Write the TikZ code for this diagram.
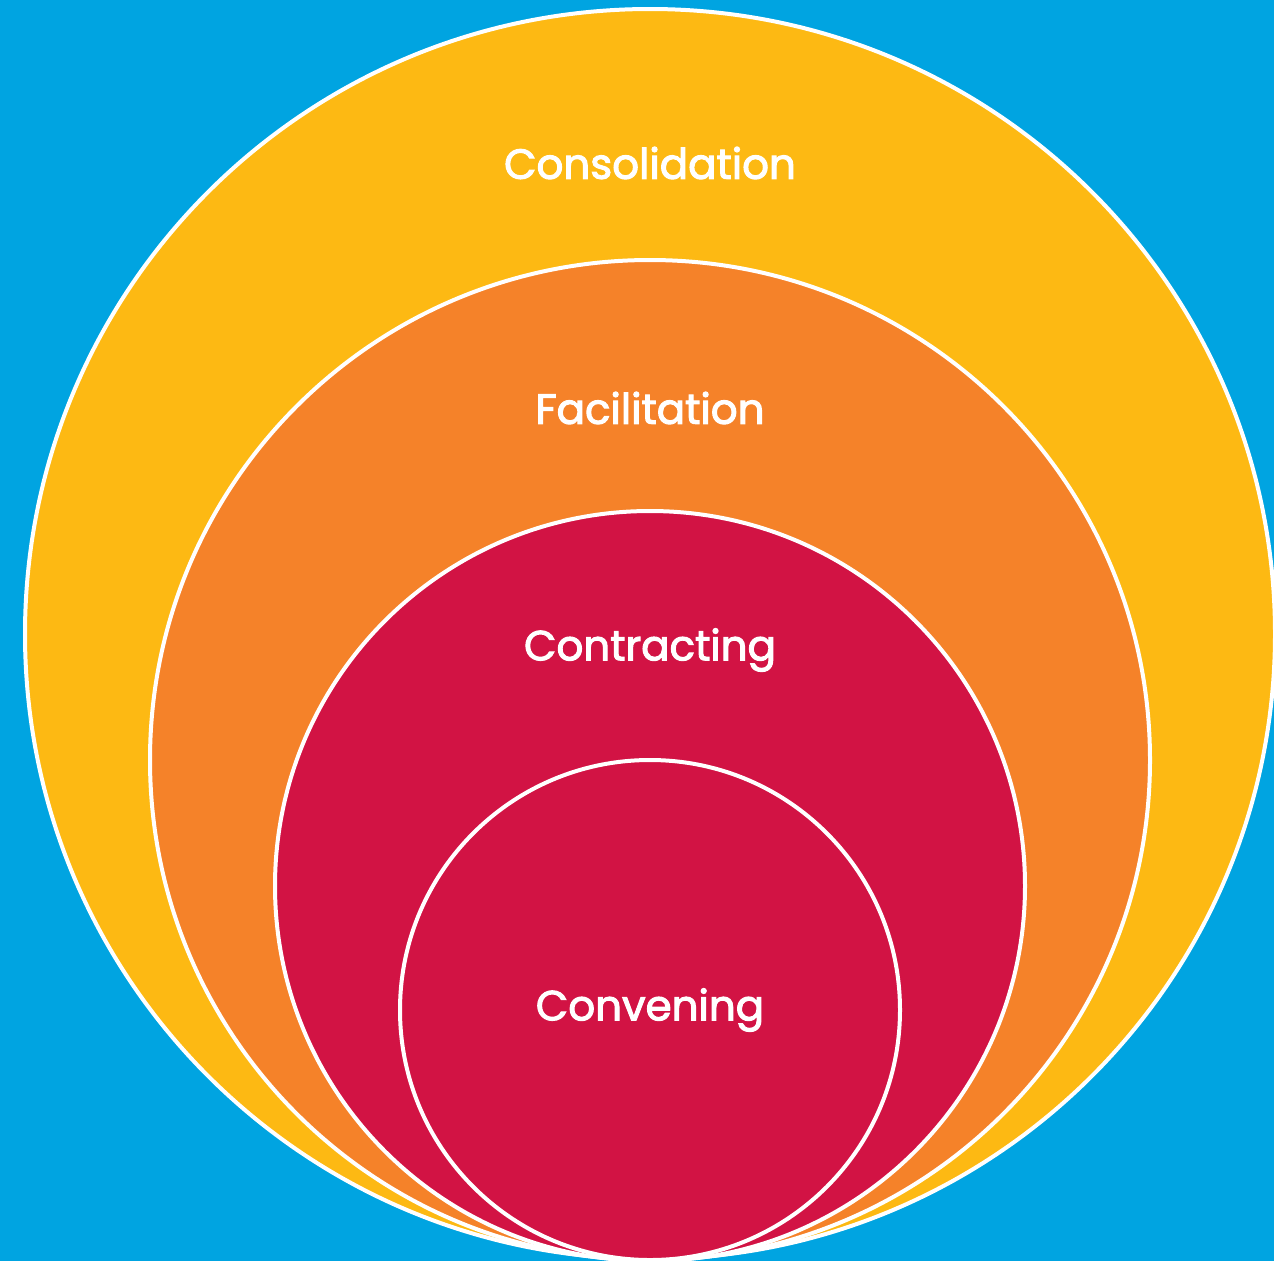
\documentclass[tikz,border=0pt]{standalone}
\usepackage{fontspec}
\setmainfont{Poppins}
\newfontfamily\ringfont[FakeBold=2.5]{Poppins}
\definecolor{skyblue}{RGB}{0,164,225}
\definecolor{ringyellow}{RGB}{253,185,19}
\definecolor{ringorange}{RGB}{245,130,41}
\definecolor{ringcrimson}{RGB}{210,19,68}
\tikzset{every picture/.style={line width=0.75pt}}
\tikzset{
  ring/.style={draw=white, line width=3pt},
  ringlabel/.style={text=white, inner sep=0.75pt, font=\fontsize{31.5}{36}\ringfont}
}

\begin{document}
\begin{tikzpicture}[x=0.75pt,y=0.75pt,yscale=-1,xscale=1]
%Background
\fill [skyblue] (0,0) rectangle (1274,1261);
\useasboundingbox (0,0) rectangle (1274,1261);

%Shape: Circle [id:consolidation]
\draw [ring, fill=ringyellow] (650,634) circle [radius=625];
%Shape: Circle [id:facilitation]
\draw [ring, fill=ringorange] (650,760) circle [radius=500];
%Shape: Circle [id:contracting]
\draw [ring, fill=ringcrimson] (650,886) circle [radius=375];
%Shape: Circle [id:convening]
\draw [ring, fill=ringcrimson] (650,1010) circle [radius=250];

% Text Node
\node (consolidation) [ringlabel] at (650,163) {Consolidation};
% Text Node
\node (facilitation) [ringlabel] at (650,408) {Facilitation};
% Text Node
\node (contracting) [ringlabel] at (650,650) {Contracting};
% Text Node
\node (convening) [ringlabel] at (650,1010) {Convening};

\end{tikzpicture}
\end{document}
